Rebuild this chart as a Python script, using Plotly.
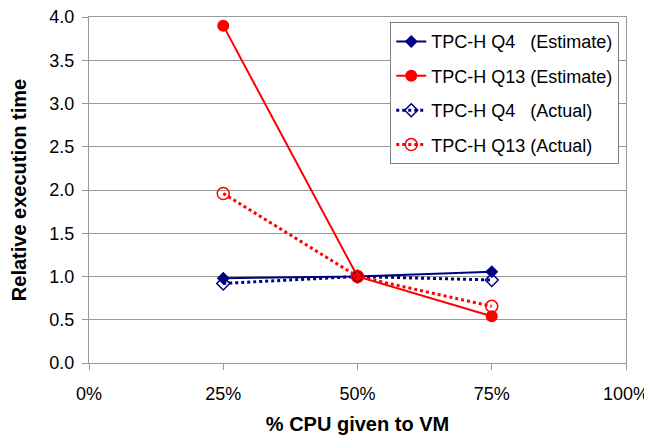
import plotly.graph_objects as go

cpu_pct = [25, 50, 75]
q4_est = [0.98, 1.00, 1.055]
q13_est = [3.90, 1.00, 0.54]
q4_act = [0.92, 1.00, 0.96]
q13_act = [1.96, 1.00, 0.655]

NB = "\u00a0"
names = [
    "TPC-H Q4" + NB * 3 + "(Estimate)",
    "TPC-H Q13 (Estimate)",
    "TPC-H Q4" + NB * 3 + "(Actual)",
    "TPC-H Q13 (Actual)",
]

navy = "#000080"
red = "#FF0000"

fig = go.Figure()
fig.add_trace(go.Scatter(x=cpu_pct, y=q4_est, name=names[0], mode="lines+markers",
                         legendgroup="a",
                         line=dict(color=navy, width=2),
                         marker=dict(symbol="diamond", size=10, color=navy)))
fig.add_trace(go.Scatter(x=cpu_pct, y=q13_est, name=names[1], mode="lines+markers",
                         legendgroup="b",
                         line=dict(color=red, width=2),
                         marker=dict(symbol="circle", size=12, color=red)))
fig.add_trace(go.Scatter(x=cpu_pct, y=q4_act, name=names[2], mode="lines+markers",
                         legendgroup="c",
                         line=dict(color=navy, width=3, dash="dot"),
                         marker=dict(symbol="diamond-open", size=10, color=navy,
                                     line=dict(width=1.5))))
fig.add_trace(go.Scatter(x=cpu_pct, y=q13_act, name=names[3], mode="lines+markers",
                         legendgroup="d",
                         line=dict(color=red, width=3, dash="dot"),
                         marker=dict(symbol="circle-open", size=12, color=red,
                                     line=dict(width=1.5))))

# the page body has an 8px margin; size and margins compensate for it
fig.update_layout(
    width=644, height=427,
    margin=dict(l=81, r=26, t=9, b=72),
    paper_bgcolor="white", plot_bgcolor="white",
    font=dict(family="Liberation Sans, Arial, sans-serif", size=18, color="black"),
    showlegend=True,
    legend=dict(x=0.561, y=0.985, xanchor="left", yanchor="top",
                bgcolor="white", bordercolor="#808080", borderwidth=1,
                font=dict(size=18), tracegroupgap=8, itemwidth=30),
    xaxis=dict(range=[0, 100], tickvals=[0, 25, 50, 75, 100],
               ticktext=["0%", "25%", "50%", "75%", "100%"],
               showgrid=False, zeroline=False, automargin=False,
               ticklabeloverflow="allow", ticklabelstandoff=8,
               showline=True, linecolor="#999999", linewidth=1, mirror=True,
               ticks="outside", ticklen=6, tickcolor="#999999",
               tickfont=dict(size=18),
               title=dict(text="<b>% CPU given to VM</b>", font=dict(size=20), standoff=14)),
    yaxis=dict(range=[0, 4], tickvals=[0, 0.5, 1, 1.5, 2, 2.5, 3, 3.5, 4],
               ticktext=["0.0", "0.5", "1.0", "1.5", "2.0", "2.5", "3.0", "3.5", "4.0"],
               showgrid=True, gridcolor="#999999", gridwidth=1, zeroline=False,
               automargin=False,
               ticklabeloverflow="allow", ticklabelstandoff=4,
               showline=True, linecolor="#999999", linewidth=1, mirror=True,
               ticks="outside", ticklen=6, tickcolor="#999999",
               tickfont=dict(size=18),
               title=dict(text="<b>Relative execution time</b>", font=dict(size=20), standoff=19)),
)

fig.write_html("out.html")
